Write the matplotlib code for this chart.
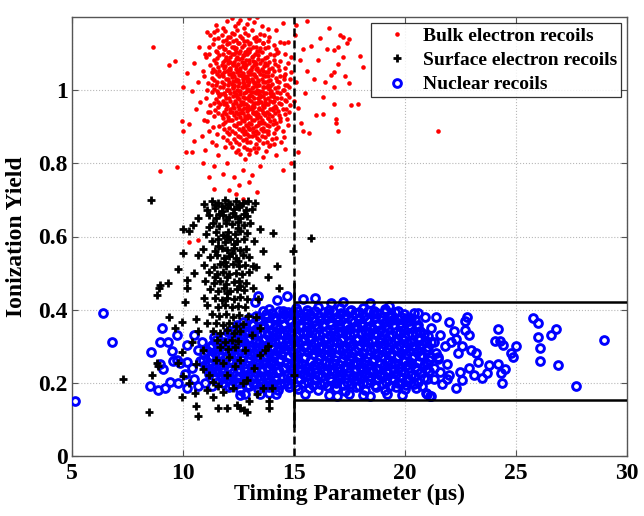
import matplotlib
matplotlib.use('Agg')
import matplotlib.pyplot as plt
from matplotlib.lines import Line2D

# ---------------- data ----------------
x_ticks = [5, 10, 15, 20, 25, 30]
y_ticks = [0, 0.2, 0.4, 0.6, 0.8, 1.0]
y_tick_labels = ['0', '0.2', '0.4', '0.6', '0.8', '1']
series_names = ['Bulk electron recoils', 'Surface electron recoils', 'Nuclear recoils']

# timing cut and acceptance band
cut_time = 15
cut_solid_lo = 0.08
cut_solid_hi = 0.47
band_lo = 0.153
band_hi = 0.42

bulk_pts = [
 (11.9,1.163),(12.2,1.157),(12.45,1.166),(12.8,1.158),(13.1,1.164),(13.5,1.155),
 (11.6,1.142),(11.95,1.137),(12.15,1.146),(12.4,1.139),(12.65,1.144),(12.9,1.136),(13.2,1.143),(13.45,1.138),(13.9,1.145),
 (11.75,1.122),(12.0,1.128),(12.3,1.12),(12.5,1.13),(12.75,1.123),(13.0,1.127),(13.3,1.119),(13.6,1.129),(14.1,1.124),
 (11.5,1.108),(11.85,1.113),(12.1,1.106),(12.35,1.114),(12.6,1.109),(12.8,1.104),(13.05,1.112),(13.35,1.107),(13.7,1.115),(14.3,1.106),
 (11.65,1.097),(11.95,1.092),(12.2,1.099),(12.45,1.091),(12.7,1.096),(12.9,1.1),(13.15,1.093),(13.4,1.098),(13.8,1.09),(14.1,1.097),
 (11.4,1.083),(11.8,1.077),(12.05,1.084),(12.3,1.079),(12.55,1.085),(12.75,1.076),(13.0,1.082),(13.25,1.078),(13.55,1.083),(13.9,1.077),(14.4,1.081),
 (11.6,1.063),(11.9,1.068),(12.15,1.061),(12.4,1.067),(12.6,1.062),(12.85,1.069),(13.1,1.064),(13.35,1.06),(13.65,1.066),(14.0,1.062),(14.3,1.068),
 (11.45,1.052),(11.75,1.046),(12.0,1.053),(12.25,1.048),(12.5,1.054),(12.7,1.047),(12.95,1.051),(13.2,1.045),(13.45,1.052),(13.75,1.049),(14.1,1.054),(14.6,1.046),
 (11.3,1.033),(11.65,1.038),(11.95,1.031),(12.2,1.037),(12.4,1.032),(12.65,1.039),(12.85,1.034),(13.1,1.03),(13.3,1.036),(13.55,1.031),(13.85,1.038),(14.2,1.033),
 (11.55,1.022),(11.85,1.017),(12.1,1.023),(12.3,1.016),(12.55,1.021),(12.75,1.018),(13.0,1.024),(13.2,1.019),(13.45,1.015),(13.7,1.022),(14.0,1.018),(14.35,1.023),(14.7,1.016),
 (11.4,1.004),(11.7,1.008),(12.0,1.001),(12.25,1.007),(12.45,1.002),(12.65,1.009),(12.9,1.003),(13.1,1.006),(13.35,1.0),(13.6,1.008),(13.9,1.003),(14.15,1.007),(14.5,1.001),
 (11.6,0.992),(11.9,0.987),(12.15,0.993),(12.4,0.986),(12.6,0.991),(12.85,0.995),(13.05,0.988),(13.3,0.993),(13.5,0.986),(13.75,0.992),(14.05,0.989),(14.4,0.994),
 (11.5,0.977),(11.8,0.972),(12.1,0.978),(12.35,0.971),(12.55,0.976),(12.8,0.98),(13.0,0.973),(13.2,0.978),(13.45,0.97),(13.7,0.977),(13.95,0.972),(14.25,0.979),(14.6,0.974),
 (11.7,0.962),(12.0,0.957),(12.25,0.963),(12.5,0.958),(12.7,0.964),(12.95,0.956),(13.15,0.961),(13.4,0.965),(13.6,0.957),(13.85,0.962),(14.15,0.958),(14.45,0.963),
 (11.45,0.947),(11.85,0.942),(12.15,0.948),(12.4,0.941),(12.65,0.946),(12.9,0.943),(13.1,0.949),(13.3,0.942),(13.55,0.947),(13.8,0.94),(14.05,0.946),(14.3,0.943),
 (11.75,0.932),(12.05,0.927),(12.3,0.933),(12.6,0.926),(12.8,0.931),(13.05,0.928),(13.25,0.934),(13.5,0.927),(13.7,0.932),(14.0,0.929),(14.35,0.933),
 (11.9,0.913),(12.2,0.918),(12.5,0.911),(12.75,0.917),(13.0,0.912),(13.2,0.919),(13.45,0.914),(13.65,0.91),(13.95,0.916),(14.2,0.912),
 (11.65,0.902),(12.1,0.897),(12.4,0.903),(12.7,0.896),(12.95,0.901),(13.15,0.898),(13.4,0.904),(13.6,0.897),(13.9,0.902),(14.3,0.899),
 (12.0,0.887),(12.35,0.882),(12.65,0.888),(12.9,0.881),(13.15,0.886),(13.4,0.883),(13.75,0.889),(14.1,0.884),
 (11.8,0.872),(12.3,0.867),(12.6,0.873),(12.85,0.868),(13.1,0.874),(13.35,0.869),(13.7,0.871),(14.0,0.866),
 (12.15,0.857),(12.55,0.852),(12.9,0.858),(13.3,0.853),(13.6,0.856),(13.95,0.851),
 (11.75,1.152),(12.05,1.147),(12.3,1.153),(12.6,1.148),(12.95,1.151),(13.3,1.146),(13.65,1.152),
 (11.8,1.134),(12.08,1.129),(12.28,1.135),(12.52,1.13),(12.78,1.136),(13.05,1.131),(13.32,1.134),(13.6,1.129),(13.85,1.135),
 (11.62,1.119),(11.92,1.114),(12.2,1.12),(12.42,1.115),(12.68,1.118),(12.92,1.113),(13.18,1.12),(13.48,1.115),(13.85,1.119),(14.2,1.114),
 (11.55,1.104),(11.8,1.099),(12.05,1.105),(12.3,1.1),(12.55,1.103),(12.78,1.098),(13.0,1.105),(13.25,1.1),(13.55,1.104),(13.95,1.099),(14.25,1.103),
 (11.55,1.089),(11.9,1.084),(12.15,1.09),(12.42,1.085),(12.65,1.088),(12.85,1.083),(13.12,1.09),(13.4,1.085),(13.7,1.089),(14.1,1.084),
 (11.48,1.074),(11.75,1.069),(12.02,1.075),(12.28,1.07),(12.5,1.073),(12.72,1.068),(12.98,1.075),(13.22,1.07),(13.5,1.074),(13.8,1.069),(14.15,1.073),
 (11.35,1.059),(11.62,1.054),(11.88,1.06),(12.12,1.055),(12.38,1.058),(12.6,1.053),(12.82,1.06),(13.08,1.055),(13.32,1.059),(13.6,1.054),(13.9,1.058),(14.35,1.055),
 (11.55,1.044),(11.82,1.039),(12.08,1.045),(12.32,1.04),(12.55,1.043),(12.78,1.038),(13.02,1.045),(13.25,1.04),(13.5,1.044),(13.72,1.039),(14.0,1.043),(14.4,1.04),
 (11.42,1.029),(11.75,1.024),(12.02,1.03),(12.25,1.025),(12.48,1.028),(12.7,1.023),(12.92,1.03),(13.15,1.025),(13.38,1.029),(13.62,1.024),(13.92,1.028),(14.25,1.025),(14.55,1.03),
 (11.5,1.014),(11.8,1.009),(12.05,1.015),(12.28,1.01),(12.5,1.013),(12.72,1.008),(12.95,1.015),(13.15,1.01),(13.4,1.014),(13.65,1.009),(13.95,1.013),(14.28,1.01),(14.6,1.015),
 (11.55,0.999),(11.85,0.994),(12.1,1.0),(12.32,0.995),(12.55,0.998),(12.75,0.993),(12.98,1.0),(13.2,0.995),(13.42,0.999),(13.68,0.994),(13.98,0.998),(14.25,0.995),(14.55,1.0),
 (11.65,0.984),(11.95,0.979),(12.25,0.985),(12.48,0.98),(12.7,0.983),(12.92,0.978),(13.12,0.985),(13.38,0.98),(13.6,0.984),(13.85,0.979),(14.12,0.983),(14.45,0.98),
 (11.58,0.969),(11.88,0.964),(12.15,0.97),(12.42,0.965),(12.62,0.968),(12.85,0.963),(13.08,0.97),(13.3,0.965),(13.52,0.969),(13.75,0.964),(14.05,0.968),(14.35,0.965),
 (11.6,0.954),(11.95,0.949),(12.28,0.955),(12.52,0.95),(12.78,0.953),(13.0,0.948),(13.22,0.955),(13.45,0.95),(13.68,0.954),(13.92,0.949),(14.2,0.953),(14.5,0.95),
 (11.6,0.939),(11.95,0.934),(12.22,0.94),(12.48,0.935),(12.72,0.938),(12.95,0.933),(13.18,0.94),(13.4,0.935),(13.62,0.939),(13.88,0.934),(14.18,0.938),
 (11.8,0.924),(12.12,0.919),(12.42,0.925),(12.68,0.92),(12.9,0.923),(13.12,0.918),(13.35,0.925),(13.58,0.92),(13.82,0.924),(14.1,0.919),(14.4,0.923),
 (11.8,0.909),(12.3,0.904),(12.58,0.91),(12.85,0.905),(13.08,0.908),(13.3,0.903),(13.52,0.91),(13.78,0.905),(14.05,0.909),
 (11.85,0.894),(12.22,0.889),(12.52,0.895),(12.8,0.89),(13.05,0.893),(13.28,0.888),(13.52,0.895),(13.82,0.89),(14.2,0.894),
 (12.1,0.88),(12.48,0.875),(12.75,0.881),(13.0,0.876),(13.25,0.879),(13.55,0.874),(13.85,0.88),
 (12.0,0.864),(12.4,0.859),(12.72,0.865),(13.05,0.86),(13.45,0.863),(13.8,0.858),
 (12.28,1.072),(12.52,1.056),(12.78,1.074),(13.02,1.057),(13.28,1.071),(12.18,1.044),(12.42,1.027),(12.62,1.043),
 (12.88,1.026),(13.12,1.045),(13.38,1.025),(13.62,1.042),(12.32,1.011),(12.58,0.997),(12.82,1.012),(13.08,0.996),
 (13.32,1.013),(13.58,0.998),(13.82,1.014),(12.46,0.983),(12.72,0.967),(12.98,0.984),(13.22,0.966),(13.48,0.982),
 (13.72,0.968),(13.98,0.985),(12.88,0.952),(13.18,0.937),(13.42,0.953),(13.68,0.938),(12.58,0.938),(12.3,0.952),
 (14.05,0.952),(12.1,1.058),(13.55,1.058),(13.85,1.027),(12.0,1.0),(11.95,0.965),
 (11.2,1.12),(11.05,1.09),(11.25,1.07),(10.95,1.04),(11.15,1.02),(11.3,0.995),(11.05,0.98),(11.25,0.96),(11.4,0.93),
 (11.1,0.915),(11.35,0.9),(11.55,0.88),(11.3,1.05),(11.2,1.1),(11.4,1.14),(11.55,1.165),(11.4,1.16),(11.25,0.94),
 (11.4,0.965),(11.3,1.015),
 (14.6,1.1),(14.75,1.075),(14.55,1.04),(14.8,1.01),(14.7,0.99),(14.85,0.96),(14.6,0.935),(14.75,0.905),(14.5,0.89),
 (14.45,0.86),(14.2,0.87),(14.9,1.05),(14.55,1.13),(14.65,0.97),(14.4,0.915),(14.8,0.94),
 (12.2,0.845),(12.5,0.838),(12.75,0.846),(13.05,0.838),(13.4,0.843),(13.75,0.835),(14.1,0.852),(12.6,0.825),(13.0,0.826),
 (13.3,0.83),(11.9,0.845),
 (12.38,1.106),(12.88,1.108),(13.42,1.108),(12.15,1.078),(12.65,1.078),(13.15,1.08),(13.7,1.075),(12.45,1.05),(12.9,1.04),
 (13.38,1.052),(13.85,1.05),(12.2,1.018),(12.7,1.03),(13.25,1.02),(13.78,1.01),(12.4,0.99),(12.92,1.0),(13.45,0.99),
 (13.95,0.994),(12.6,0.96),(13.1,0.955),(13.6,0.96),(14.1,0.97),(12.8,0.925),(13.35,0.93),(13.85,0.925),(13.0,0.895),
 (13.62,0.89),(12.15,0.94),(11.85,1.05),(11.72,0.99),(12.05,0.92),
 (11.5,1.18),(11.8,1.172),(12.0,1.19),(12.2,1.198),(12.35,1.176),(12.6,1.193),(12.75,1.171),(12.9,1.183),(13.0,1.197),
 (13.2,1.188),(13.55,1.176),(13.85,1.169),(14.2,1.164),(14.5,1.185),(11.25,1.152),(14.4,1.132),(12.5,1.185),(13.35,1.2),
 (11.0,1.1),(10.9,1.052),(11.1,1.0),(10.8,0.968),(11.15,0.94),(10.95,0.918),(11.2,0.888),(10.85,0.876),(11.3,0.858),
 (11.0,0.838),(10.7,1.022),(11.35,1.128),(10.6,0.948),(10.4,0.998),(10.3,0.908),(10.5,0.862),(10.2,1.048),(10.4,0.832),
 (10.14,0.83),(10.0,0.89),(9.96,0.915),(10.0,1.01),(8.66,1.12),(9.4,1.07),(9.65,1.08),(8.97,0.78),(9.74,0.79),
 (11.1,1.16),(10.75,1.12),(10.5,1.075),
 (11.6,0.822),(12.0,0.8),(12.4,0.832),(12.8,0.812),(13.2,0.842),(13.6,0.818),(13.9,0.848),(11.8,0.772),(12.3,0.762),
 (12.7,0.782),(13.1,0.768),(13.5,0.792),(14.2,0.822),(11.4,0.792),(10.9,0.802),(12.1,0.728),(12.55,0.742),(13.0,0.748),
 (11.4,0.73),(12.4,0.715),(13.35,0.722),(12.7,0.702),(11.2,0.762),(14.5,0.782),(10.7,0.59),(10.3,0.586),(12.9,0.84),
 (11.5,0.85),(14.6,0.84),
 (14.6,1.062),(14.8,0.982),(14.7,0.922),(14.9,1.092),(14.55,0.872),(14.75,1.132),(15.1,1.022),(15.2,0.952),(15.3,1.082),
 (15.05,1.152),(15.4,1.112),(15.5,0.992),(15.6,1.052),(15.35,0.912),(15.8,1.122),(15.9,1.032),(16.1,1.082),(16.3,0.982),
 (16.0,0.932),(16.5,1.112),(16.7,1.042),(16.8,0.962),(16.2,1.142),(16.6,1.172),(15.7,0.882),(16.9,0.922),(17.0,1.072),
 (15.2,0.832),(14.9,0.802),(17.1,1.152),(16.4,1.022),(21.5,0.89),(15.1,1.18),(15.6,1.19),(17.2,1.145),(17.4,1.13),
 (17.5,1.14),(17.0,1.12),(16.8,1.11),(17.2,1.09),(18.0,1.094),(18.1,1.065),(16.8,1.05),(17.3,1.04),(17.5,1.02),
 (16.8,1.01),(17.6,0.96),(17.9,0.964),(16.3,0.934),(17.0,0.89),(16.7,0.79),(15.4,0.888),(16.9,0.91),(14.85,1.03),
 (14.65,0.95),(15.0,0.97),
]

surface_pts = [
 (10.95,0.688),(11.3,0.697),(11.6,0.692),(11.9,0.699),(12.15,0.69),(12.4,0.696),(12.7,0.693),(12.95,0.698),(13.25,0.691),
 (11.1,0.672),(11.45,0.679),(11.75,0.671),(12.0,0.677),(12.3,0.674),(12.55,0.68),(12.85,0.672),(13.1,0.676),
 (10.7,0.652),(11.2,0.658),(11.5,0.651),(11.8,0.659),(12.1,0.654),(12.35,0.657),(12.6,0.65),(12.9,0.656),
 (10.45,0.632),(11.35,0.638),(11.65,0.63),(11.95,0.637),(12.2,0.633),(12.5,0.639),(12.75,0.631),(13.05,0.636),
 (10.3,0.614),(11.05,0.607),(11.5,0.612),(11.8,0.605),(12.05,0.613),(12.35,0.608),(12.6,0.615),(12.9,0.609),
 (11.3,0.588),(11.6,0.593),(11.9,0.586),(12.15,0.592),(12.45,0.587),(12.75,0.594),(13.2,0.589),
 (10.9,0.567),(11.45,0.561),(11.75,0.568),(12.0,0.563),(12.3,0.569),(12.6,0.562),(12.85,0.566),
 (11.25,0.543),(11.55,0.548),(11.85,0.541),(12.1,0.547),(12.4,0.542),(12.7,0.549),(13.0,0.544),
 (10.95,0.523),(11.4,0.517),(11.7,0.524),(11.95,0.519),(12.25,0.525),(12.55,0.518),(12.8,0.522),(13.3,0.516),
 (11.2,0.502),(11.55,0.497),(11.8,0.503),(12.1,0.496),(12.4,0.501),(12.65,0.498),(13.0,0.504),
 (11.0,0.477),(11.4,0.472),(11.7,0.478),(11.95,0.471),(12.3,0.476),(12.55,0.479),(12.85,0.473),
 (11.25,0.457),(11.6,0.452),(11.85,0.458),(12.15,0.451),(12.45,0.456),(12.75,0.453),(13.15,0.459),
 (11.45,0.432),(11.75,0.427),(12.0,0.433),(12.3,0.428),(12.6,0.434),(12.9,0.429),
 (11.1,0.412),(11.6,0.407),(11.9,0.413),(12.2,0.406),(12.5,0.411),(12.8,0.408),
 (11.3,0.387),(11.65,0.382),(11.95,0.388),(12.25,0.381),(12.55,0.386),(12.95,0.383),
 (11.5,0.362),(11.8,0.357),(12.1,0.363),(12.4,0.356),(12.7,0.361),
 (11.35,0.342),(11.7,0.337),(12.0,0.343),(12.3,0.336),(12.6,0.341),
 (11.55,0.317),(11.9,0.312),(12.2,0.318),(12.5,0.313),
 (11.7,0.297),(12.05,0.292),(12.35,0.298),
 (11.45,0.686),(11.75,0.683),(12.05,0.688),(12.55,0.685),(12.25,0.664),(11.62,0.662),(12.75,0.662),(11.95,0.646),
 (12.5,0.622),(11.2,0.625),(12.0,0.598),(12.3,0.58),(11.6,0.575),(12.2,0.555),(11.9,0.53),(12.5,0.532),(12.0,0.488),
 (11.45,0.49),(12.6,0.465),(12.0,0.445),
 (8.56,0.70),(14.07,0.61),(15.8,0.597),(14.95,0.56),(13.6,0.56),(14.25,0.52),(13.85,0.49),(14.35,0.46),(10.0,0.62),
 (10.0,0.556),(9.8,0.51),(9.33,0.474),(8.93,0.46),(8.84,0.44),(10.18,0.48),(10.2,0.46),(7.3,0.21),(8.47,0.12),
 (9.96,0.16),(10.6,0.137),(10.7,0.11),(11.6,0.13),(12.0,0.13),(12.6,0.13),(12.9,0.12),(13.9,0.15),(13.9,0.13),
 (15.0,0.22),(12.75,0.125),(12.45,0.14),(8.97,0.468),(10.1,0.42),(9.4,0.38),(9.65,0.35),(9.96,0.285),(8.84,0.255),
 (8.6,0.22),(8.9,0.245),(9.8,0.255),(10.0,0.217),(10.6,0.25),(10.9,0.236),(11.36,0.203),(11.8,0.175),(12.27,0.186),
 (12.36,0.245),(13.2,0.24),(12.9,0.208),(13.6,0.186),(14.0,0.186),(13.7,0.29),(13.85,0.3),(13.5,0.277),(11.36,0.162),
 (10.55,0.172),(11.5,0.263),(11.8,0.255),(12.6,0.263),(10.9,0.29),(10.4,0.312),(10.7,0.34),(10.6,0.373),(9.96,0.367),
 (11.1,0.364),(10.96,0.433),(13.4,0.43),(13.3,0.38),(13.1,0.33),(12.8,0.29),(12.1,0.27),(11.2,0.22),(12.0,0.22),
 (12.7,0.2),(11.6,0.19),(13.35,0.17),(13.0,0.15),(11.1,0.18),(10.3,0.2),(13.5,0.35),(13.15,0.52),(13.5,0.62),
 (10.7,0.55),(10.5,0.5),
]

nuclear_pts = [
 (12.1,0.188),(12.6,0.181),(13.0,0.19),(13.4,0.183),(13.9,0.187),(14.3,0.179),(14.8,0.189),(15.2,0.182),(15.7,0.186),
 (16.1,0.18),(16.5,0.19),(16.9,0.184),(17.3,0.178),(17.8,0.188),(18.2,0.181),(18.7,0.187),(19.1,0.179),(19.6,0.189),
 (20.0,0.183),(20.5,0.186),
 (15.5,0.168),(16.6,0.166),(16.95,0.163),(18.1,0.166),(18.45,0.163),(19.2,0.17),(19.9,0.165),(21.15,0.163),(20.95,0.172),
 (17.5,0.17),(12.8,0.17),(13.5,0.168),(14.2,0.17),(12.6,0.167),(13.9,0.172),
 (11.6,0.202),(12.0,0.209),(12.4,0.201),(12.8,0.207),(13.15,0.2),(13.5,0.21),(13.85,0.203),(14.2,0.208),(14.55,0.199),
 (14.9,0.206),(15.3,0.211),(15.65,0.202),(16.0,0.208),(16.35,0.2),(16.7,0.205),(17.05,0.21),(17.4,0.201),(17.75,0.207),
 (18.1,0.199),(18.45,0.206),(18.8,0.211),(19.15,0.203),(19.5,0.208),(19.85,0.2),(20.2,0.206),(20.6,0.201),(21.0,0.209),
 (11.2,0.223),(11.55,0.229),(11.9,0.22),(12.25,0.227),(12.6,0.232),(12.95,0.222),(13.3,0.228),(13.65,0.219),(14.0,0.226),
 (14.35,0.231),(14.7,0.221),(15.05,0.227),(15.4,0.223),(15.75,0.23),(16.1,0.22),(16.45,0.226),(16.8,0.232),(17.15,0.222),
 (17.5,0.228),(17.85,0.219),(18.2,0.225),(18.55,0.231),(18.9,0.221),(19.25,0.227),(19.6,0.223),(19.95,0.229),(20.3,0.22),
 (20.7,0.226),(21.1,0.231),
 (11.0,0.247),(11.35,0.241),(11.7,0.249),(12.05,0.243),(12.4,0.251),(12.75,0.24),(13.1,0.246),(13.45,0.252),(13.8,0.242),
 (14.15,0.248),(14.5,0.239),(14.85,0.245),(15.2,0.25),(15.55,0.241),(15.9,0.247),(16.25,0.243),(16.6,0.25),(16.95,0.24),
 (17.3,0.246),(17.65,0.252),(18.0,0.242),(18.35,0.248),(18.7,0.239),(19.05,0.245),(19.4,0.251),(19.75,0.241),(20.1,0.247),
 (20.45,0.243),(20.85,0.249),(21.3,0.24),
 (10.9,0.262),(11.25,0.269),(11.6,0.26),(11.95,0.267),(12.3,0.272),(12.65,0.261),(13.0,0.268),(13.35,0.263),(13.7,0.27),
 (14.05,0.259),(14.4,0.266),(14.75,0.271),(15.1,0.262),(15.45,0.268),(15.8,0.26),(16.15,0.266),(16.5,0.272),(16.85,0.261),
 (17.2,0.267),(17.55,0.263),(17.9,0.27),(18.25,0.259),(18.6,0.265),(18.95,0.271),(19.3,0.262),(19.65,0.268),(20.0,0.26),
 (20.35,0.267),(20.7,0.272),(21.1,0.261),(21.5,0.266),
 (11.1,0.287),(11.45,0.281),(11.8,0.29),(12.15,0.283),(12.5,0.279),(12.85,0.288),(13.2,0.282),(13.55,0.291),(13.9,0.28),
 (14.25,0.286),(14.6,0.292),(14.95,0.281),(15.3,0.287),(15.65,0.283),(16.0,0.29),(16.35,0.279),(16.7,0.285),(17.05,0.291),
 (17.4,0.28),(17.75,0.286),(18.1,0.282),(18.45,0.289),(18.8,0.279),(19.15,0.285),(19.5,0.291),(19.85,0.281),(20.2,0.287),
 (20.55,0.283),(20.95,0.289),(21.4,0.28),
 (11.3,0.302),(11.7,0.309),(12.05,0.3),(12.4,0.307),(12.75,0.312),(13.1,0.301),(13.45,0.308),(13.8,0.303),(14.15,0.31),
 (14.5,0.299),(14.85,0.306),(15.2,0.311),(15.55,0.302),(15.9,0.308),(16.25,0.3),(16.6,0.306),(16.95,0.312),(17.3,0.301),
 (17.65,0.307),(18.0,0.303),(18.35,0.31),(18.7,0.299),(19.05,0.305),(19.4,0.311),(19.75,0.302),(20.1,0.308),(20.45,0.3),
 (20.8,0.306),(21.2,0.311),
 (11.9,0.327),(12.3,0.321),(12.65,0.329),(13.0,0.323),(13.35,0.331),(13.7,0.32),(14.05,0.326),(14.4,0.332),(14.75,0.322),
 (15.1,0.328),(15.45,0.319),(15.8,0.325),(16.15,0.33),(16.5,0.321),(16.85,0.327),(17.2,0.323),(17.55,0.33),(17.9,0.32),
 (18.25,0.326),(18.6,0.332),(18.95,0.322),(19.3,0.328),(19.65,0.319),(20.0,0.325),(20.35,0.33),(20.7,0.321),(21.05,0.327),
 (12.2,0.342),(12.6,0.349),(12.95,0.34),(13.3,0.347),(13.65,0.352),(14.0,0.341),(14.35,0.348),(14.7,0.343),(15.05,0.35),
 (15.4,0.339),(15.75,0.346),(16.1,0.351),(16.45,0.342),(16.8,0.348),(17.15,0.34),(17.5,0.346),(17.85,0.352),(18.2,0.341),
 (18.55,0.347),(18.9,0.343),(19.25,0.35),(19.6,0.339),(19.95,0.345),(20.3,0.351),(20.7,0.342),
 (12.7,0.367),(13.1,0.361),(13.5,0.369),(13.85,0.363),(14.2,0.371),(14.55,0.36),(14.9,0.366),(15.25,0.372),(15.6,0.362),
 (15.95,0.368),(16.3,0.359),(16.65,0.365),(17.0,0.37),(17.35,0.361),(17.7,0.367),(18.05,0.363),(18.4,0.37),(18.75,0.36),
 (19.1,0.366),(19.45,0.372),(19.8,0.362),(20.2,0.368),(20.6,0.359),
 (13.3,0.382),(13.75,0.389),(14.15,0.38),(14.55,0.387),(14.95,0.392),(15.35,0.381),(15.75,0.388),(16.15,0.383),(16.55,0.39),
 (16.95,0.379),(17.35,0.386),(17.75,0.391),(18.15,0.382),(18.55,0.388),(18.95,0.38),(19.4,0.386),(19.85,0.381),(20.3,0.377),
 (13.9,0.402),(14.5,0.397),(15.1,0.405),(15.6,0.399),(16.1,0.406),(16.6,0.398),(17.1,0.404),(17.6,0.4),(18.1,0.403),
 (18.6,0.396),(19.1,0.401),(19.7,0.395),(20.4,0.39),
 (11.8,0.198),(12.2,0.192),(12.55,0.199),(12.95,0.194),(13.3,0.197),(13.65,0.191),(14.0,0.198),(14.4,0.193),(14.75,0.196),
 (15.1,0.192),(15.45,0.199),(15.85,0.194),(16.2,0.197),(16.55,0.191),(16.9,0.198),(17.25,0.193),(17.6,0.196),(17.95,0.192),
 (18.3,0.199),(18.65,0.194),(19.0,0.197),(19.35,0.191),(19.7,0.198),(20.05,0.193),(20.4,0.196),(20.8,0.192),
 (11.4,0.218),(11.75,0.212),(12.1,0.219),(12.45,0.214),(12.8,0.217),(13.12,0.211),(13.48,0.218),(13.82,0.213),(14.18,0.216),
 (14.52,0.212),(14.88,0.219),(15.22,0.214),(15.58,0.217),(15.92,0.211),(16.28,0.218),(16.62,0.213),(16.98,0.216),(17.32,0.212),
 (17.68,0.219),(18.02,0.214),(18.38,0.217),(18.72,0.211),(19.08,0.218),(19.42,0.213),(19.78,0.216),(20.12,0.212),(20.48,0.219),
 (20.85,0.214),
 (11.1,0.238),(11.45,0.232),(11.8,0.239),(12.15,0.234),(12.5,0.237),(12.85,0.231),(13.2,0.238),(13.55,0.233),(13.9,0.236),
 (14.25,0.232),(14.6,0.239),(14.95,0.234),(15.3,0.237),(15.65,0.231),(16.0,0.238),(16.35,0.233),(16.7,0.236),(17.05,0.232),
 (17.4,0.239),(17.75,0.234),(18.1,0.237),(18.45,0.231),(18.8,0.238),(19.15,0.233),(19.5,0.236),(19.85,0.232),(20.2,0.239),
 (20.55,0.234),(20.95,0.237),
 (10.8,0.258),(11.18,0.252),(11.52,0.259),(11.88,0.254),(12.22,0.257),(12.58,0.251),(12.92,0.258),(13.28,0.253),(13.62,0.256),
 (13.98,0.252),(14.32,0.259),(14.68,0.254),(15.02,0.257),(15.38,0.251),(15.72,0.258),(16.08,0.253),(16.42,0.256),(16.78,0.252),
 (17.12,0.259),(17.48,0.254),(17.82,0.257),(18.18,0.251),(18.52,0.258),(18.88,0.253),(19.22,0.256),(19.58,0.252),(19.92,0.259),
 (20.28,0.254),(20.62,0.257),(21.0,0.251),
 (10.95,0.278),(11.3,0.272),(11.62,0.279),(12.0,0.274),(12.35,0.277),(12.7,0.271),(13.05,0.278),(13.4,0.273),(13.75,0.276),
 (14.1,0.272),(14.45,0.279),(14.8,0.274),(15.15,0.277),(15.5,0.271),(15.85,0.278),(16.2,0.273),(16.55,0.276),(16.9,0.272),
 (17.25,0.279),(17.6,0.274),(17.95,0.277),(18.3,0.271),(18.65,0.278),(19.0,0.273),(19.35,0.276),(19.7,0.272),(20.05,0.279),
 (20.4,0.274),(20.78,0.277),(21.2,0.271),
 (11.22,0.298),(11.58,0.292),(11.95,0.299),(12.3,0.294),(12.65,0.297),(13.0,0.291),(13.35,0.298),(13.7,0.293),(14.05,0.296),
 (14.4,0.292),(14.75,0.299),(15.1,0.294),(15.45,0.297),(15.8,0.291),(16.15,0.298),(16.5,0.293),(16.85,0.296),(17.2,0.292),
 (17.55,0.299),(17.9,0.294),(18.25,0.297),(18.6,0.291),(18.95,0.298),(19.3,0.293),(19.65,0.296),(20.0,0.292),(20.35,0.299),
 (20.7,0.294),(21.05,0.297),
 (11.5,0.318),(11.88,0.312),(12.22,0.319),(12.58,0.314),(12.92,0.317),(13.28,0.311),(13.62,0.318),(13.98,0.313),(14.32,0.316),
 (14.68,0.312),(15.02,0.319),(15.38,0.314),(15.72,0.317),(16.08,0.311),(16.42,0.318),(16.78,0.313),(17.12,0.316),(17.48,0.312),
 (17.82,0.319),(18.18,0.314),(18.52,0.317),(18.88,0.311),(19.22,0.318),(19.58,0.313),(19.92,0.316),(20.28,0.312),(20.62,0.319),
 (20.98,0.314),
 (12.05,0.338),(12.45,0.332),(12.8,0.339),(13.15,0.334),(13.5,0.337),(13.85,0.331),(14.2,0.338),(14.55,0.333),(14.9,0.336),
 (15.25,0.332),(15.6,0.339),(15.95,0.334),(16.3,0.337),(16.65,0.331),(17.0,0.338),(17.35,0.333),(17.7,0.336),(18.05,0.332),
 (18.4,0.339),(18.75,0.334),(19.1,0.337),(19.45,0.331),(19.8,0.338),(20.15,0.333),(20.5,0.336),(20.88,0.332),
 (12.45,0.358),(12.82,0.352),(13.18,0.359),(13.52,0.354),(13.88,0.357),(14.22,0.351),(14.58,0.358),(14.92,0.353),(15.28,0.356),
 (15.62,0.352),(15.98,0.359),(16.32,0.354),(16.68,0.357),(17.02,0.351),(17.38,0.358),(17.72,0.353),(18.08,0.356),(18.42,0.352),
 (18.78,0.359),(19.12,0.354),(19.48,0.357),(19.82,0.351),(20.18,0.358),(20.55,0.353),
 (13.0,0.378),(13.4,0.372),(13.75,0.379),(14.1,0.374),(14.45,0.377),(14.8,0.371),(15.15,0.378),(15.5,0.373),(15.85,0.376),
 (16.2,0.372),(16.55,0.379),(16.9,0.374),(17.25,0.377),(17.6,0.371),(17.95,0.378),(18.3,0.373),(18.65,0.376),(19.0,0.372),
 (19.35,0.379),(19.7,0.374),(20.05,0.377),(20.45,0.371),
 (13.6,0.396),(14.0,0.391),(14.35,0.397),(14.75,0.393),(15.15,0.395),(15.55,0.39),(15.95,0.396),(16.35,0.392),(16.75,0.395),
 (17.15,0.391),(17.55,0.397),(17.95,0.393),(18.35,0.395),(18.75,0.39),(19.15,0.396),(19.55,0.392),(19.95,0.388),
 (15.97,0.433),(17.2,0.42),(18.45,0.419),(14.7,0.438),(14.25,0.425),(15.4,0.428),(13.4,0.436),(13.26,0.42),(16.7,0.418),
 (19.3,0.41),(20.9,0.38),(20.6,0.39),
 (21.4,0.38),(21.2,0.35),(21.6,0.33),(21.3,0.31),(21.8,0.3),(21.5,0.27),(21.9,0.25),(21.6,0.23),(21.3,0.21),(22.0,0.367),
 (22.2,0.34),(22.1,0.31),(22.4,0.28),(22.3,0.32),(22.6,0.3),(22.0,0.22),(22.3,0.186),(22.6,0.206),(22.8,0.38),(22.7,0.37),
 (22.7,0.345),(22.9,0.33),(23.0,0.29),(23.2,0.28),(22.9,0.24),(23.1,0.22),(23.3,0.257),(23.5,0.214),(23.7,0.227),
 (23.8,0.247),(22.5,0.23),(21.7,0.195),(21.0,0.17),(21.2,0.164),(21.9,0.21),
 (24.2,0.348),(24.05,0.315),(24.3,0.315),(24.45,0.304),(25.0,0.3),(24.8,0.282),(24.9,0.27),(24.2,0.25),(24.35,0.227),
 (24.4,0.2),(24.5,0.238),(25.8,0.378),(26.0,0.364),(26.0,0.325),(26.1,0.296),(26.6,0.33),(26.8,0.347),(26.1,0.258),
 (26.9,0.247),(27.7,0.19),(29.0,0.317),
 (5.13,0.15),(6.4,0.39),(6.8,0.31),(8.57,0.285),(8.53,0.19),(8.9,0.18),(9.06,0.35),(9.0,0.31),(9.33,0.31),(9.5,0.287),
 (9.1,0.236),(8.97,0.25),(9.2,0.186),(9.42,0.203),(9.74,0.33),(9.55,0.26),(9.74,0.263),(9.87,0.255),(10.2,0.257),
 (9.8,0.2),(10.2,0.186),(10.1,0.225),(10.2,0.304),(10.5,0.21),(10.7,0.29),(10.4,0.24),(10.7,0.19),(10.5,0.33),
 (11.4,0.325),(11.0,0.2),(11.3,0.19),(10.85,0.31),
]

# ---------------- figure ----------------
plt.rcParams['font.family'] = ['Liberation Serif', 'DejaVu Serif']
plt.rcParams['font.weight'] = 'bold'

W, H = 644, 516
fig = plt.figure(figsize=(W / 100, H / 100), dpi=100)
ax = fig.add_axes([71.7 / W, (H - 455.7) / H, 555 / W, 438.4 / H])

bx, by = zip(*bulk_pts)
sx, sy = zip(*surface_pts)
nx, ny = zip(*nuclear_pts)

bulk_style = dict(ls='none', marker='o', ms=3.3, mew=0, color='red')
surf_style = dict(ls='none', marker='+', ms=6.0, mew=2.0, color='black')
nuc_style = dict(ls='none', marker='o', ms=5.6, mfc='none', mec='blue', mew=2.1)

ax.plot(bx, by, zorder=2, **bulk_style)
ax.plot(nx, ny, zorder=3, **nuc_style)
ax.plot(sx, sy, zorder=4, **surf_style)

# cut lines
ax.axvline(cut_time, color='black', lw=1.8, ls=(0, (3.2, 1.6)), zorder=5)
ax.plot([cut_time, cut_time], [cut_solid_lo, cut_solid_hi], color='black', lw=1.8, zorder=5)
ax.plot([cut_time, 30], [band_hi, band_hi], color='black', lw=1.8, zorder=5, solid_capstyle='butt')
ax.plot([cut_time, 30], [band_lo, band_lo], color='black', lw=1.8, zorder=5, solid_capstyle='butt')

ax.set_xlim(5, 30)
ax.set_ylim(0, 1.2)
ax.set_xticks(x_ticks)
ax.set_xticklabels([str(t) for t in x_ticks])
ax.set_yticks(y_ticks)
ax.set_yticklabels(y_tick_labels)

ax.grid(True, color='#b8b8b8', ls=':', lw=0.8)
ax.set_axisbelow(True)
for sp in ax.spines.values():
    sp.set_color('#555555')
    sp.set_linewidth(1.0)
ax.tick_params(axis='both', direction='in', length=4, width=0.8, color='#555555',
               top=True, right=True, labelsize=17, labelcolor='black')
ax.tick_params(axis='x', pad=5)
ax.tick_params(axis='y', pad=3)
for lab in ax.get_xticklabels() + ax.get_yticklabels():
    lab.set_fontweight('bold')

ax.set_xlabel('Timing Parameter (μs)', fontsize=17, fontweight='bold', labelpad=0)
ax.set_ylabel('Ionization Yield', fontsize=17, fontweight='bold', labelpad=8)

handles = [Line2D([], [], **bulk_style), Line2D([], [], **surf_style), Line2D([], [], **nuc_style)]
leg = ax.legend(handles, series_names, loc='upper right', frameon=True,
                fancybox=False, borderaxespad=0.3, borderpad=0.2, handlelength=2.3,
                handletextpad=0.15, labelspacing=0.35, prop={'weight': 'bold', 'size': 14})
leg.get_frame().set_edgecolor('black')
leg.get_frame().set_linewidth(0.9)
leg.set_zorder(10)

fig.savefig('out.png', dpi=100)
